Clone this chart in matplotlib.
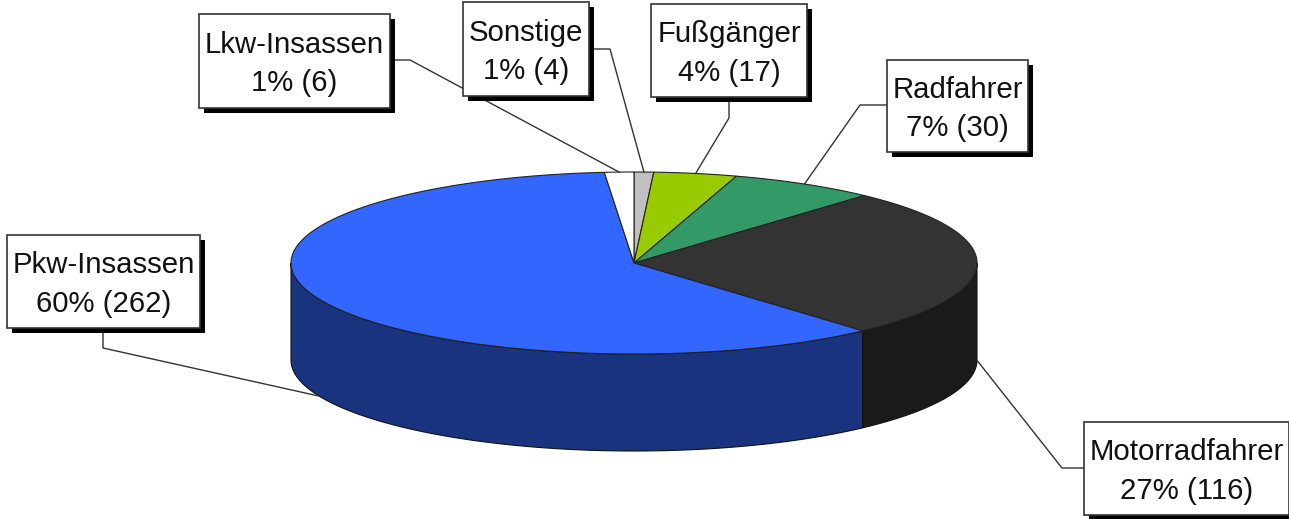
import numpy as np
import matplotlib
matplotlib.use("Agg")
import matplotlib.pyplot as plt
from matplotlib.patches import Rectangle

# Reihenfolge im Uhrzeigersinn ab 12 Uhr
names = ["Sonstige", "Fußgänger", "Radfahrer", "Motorradfahrer", "Pkw-Insassen", "Lkw-Insassen"]
values = [4, 17, 30, 116, 262, 6]
percents = [1, 4, 7, 27, 60, 1]

top_colors = ["#C0C0C0", "#99CC00", "#339966", "#333333", "#3366FF", "#FFFFFF"]
side_colors = ["#808080", "#4D6600", "#1A4D33", "#1A1A1A", "#1A337F", "#808080"]

# Label-Boxen in Pixeln: links, oben, rechts, unten
boxes = [(463, 2, 589, 96), (651, 4, 807, 97), (887, 60, 1028, 152),
         (1084, 422, 1289, 515), (7, 235, 200, 328), (199, 14, 390, 108)]
# Knick der Führungslinien: Start an der Box, Knickpunkt
leaders = [((589, 49), (610, 49)), ((729, 97), (729, 118)), ((887, 105), (860, 105)),
           ((1084, 468), (1062, 468)), ((103, 328), (103, 348)), ((390, 60), (410, 60))]

cx, cy, rx, ry, depth = 634, 263, 343, 91, 97

plt.rcParams['font.family'] = ['Liberation Sans', 'DejaVu Sans']
fig = plt.figure(figsize=(12.89, 5.19), dpi=100)
ax = fig.add_axes([0, 0, 1, 1])
ax.set_xlim(0, 1289)
ax.set_ylim(519, 0)
ax.axis("off")


def rim(a, b, dy=0):
    t = np.radians(np.linspace(a, b, 120))
    return cx + rx * np.sin(t), cy - ry * np.cos(t) + dy


edges = np.concatenate([[0], np.cumsum(values)]) / sum(values) * 360

# Seitenwand
for i in range(len(values)):
    a = max(edges[i], 90)
    b = min(edges[i + 1], 270)
    if b <= a:
        continue
    x1, y1 = rim(a, b)
    x2, y2 = rim(b, a, depth)
    ax.fill(np.r_[x1, x2], np.r_[y1, y2], facecolor=side_colors[i],
            edgecolor="#111111", linewidth=0.8, zorder=2)

# Deckel
for i in range(len(values)):
    x, y = rim(edges[i], edges[i + 1])
    ax.fill(np.r_[cx, x], np.r_[cy, y], facecolor=top_colors[i],
            edgecolor="#222222", linewidth=0.8, zorder=3)

# Führungslinien und Boxen
for i, name in enumerate(names):
    mid = (edges[i] + edges[i + 1]) / 2
    ex, ey = rim(mid, mid)
    ex, ey = ex[0], ey[0]
    if 90 <= mid <= 270:
        ey = ey + depth
    start, knee = leaders[i]
    ax.plot([start[0], knee[0], ex], [start[1], knee[1], ey], color="#333333",
            linewidth=1.0, zorder=4)

    l, t, r, b = boxes[i]
    ax.add_patch(Rectangle((l + 5, t + 5), r - l, b - t, facecolor="black",
                           edgecolor="none", zorder=5))
    ax.add_patch(Rectangle((l, t), r - l, b - t, facecolor="white",
                           edgecolor="#333333", linewidth=1.2, zorder=6))
    ax.text((l + r) / 2, (t + b) / 2 + 3, f"{name}\n{percents[i]}% ({values[i]})",
            ha="center", va="center", fontsize=21.2, linespacing=1.47,
            color="#111111", zorder=7)

fig.savefig("out.png", dpi=100)
